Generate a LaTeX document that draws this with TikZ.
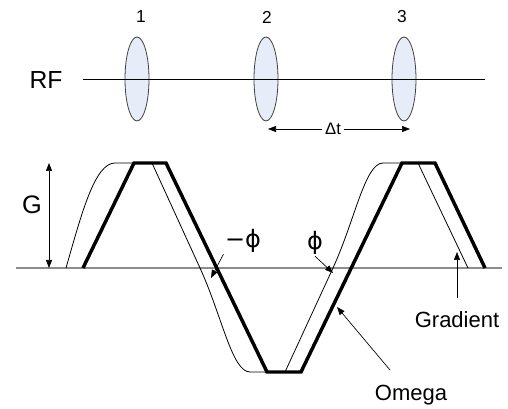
\documentclass[tikz,border=0pt]{standalone}
\usepackage{fontspec}
\setmainfont{Liberation Sans}
\newfontfamily\symfont{DejaVu Sans}
\usepackage{xcolor}
\definecolor{pulsefill}{HTML}{E6ECF8}
\definecolor{pulseline}{HTML}{404040}
\definecolor{axis}{HTML}{8C8C8C}
\usepackage{tikz}
\usetikzlibrary{shapes.geometric,arrows.meta,positioning}

\begin{document}
\begin{tikzpicture}[x=0.75pt,y=-0.75pt,
  pulse/.style={ellipse,draw=pulseline,fill=pulsefill,line width=0.6pt,
    minimum width=18pt,minimum height=63pt,inner sep=0pt},
  arr/.style={-{Triangle[length=6pt,width=4.5pt]},line width=0.5pt},
  dbl/.style={{Triangle[length=6pt,width=4.5pt]}-{Triangle[length=6pt,width=4.5pt]},line width=0.5pt},
  lbl/.style={font=\fontsize{16.5}{18}\selectfont,inner sep=1pt}]
  \useasboundingbox (0,0) rectangle (508,409);
  % ligne RF et impulsions
  \node[font=\fontsize{18.5}{20}\selectfont] (rf) at (46,80) {RF};
  \coordinate (rfa) at (83,79);
  \coordinate (rfb) at (485,79);
  \foreach \i/\x/\t in {1/137/141,2/266/267,3/404/402} {
    \node[pulse] (p\i) at (\x,79) {};
    \node[font=\fontsize{13}{15}\selectfont] (n\i) at (\t,17) {\i};
  }
  \draw[line width=0.6pt] (rfa) -- (rfb);
  % intervalle entre impulsions
  \node[font=\fontsize{12.5}{14}\selectfont,inner sep=2pt] (dt) at (333,129) {Δt};
  \coordinate (dtl) at (268,129);
  \coordinate (dtr) at (410,129);
  \draw[arr] (dt) -- (dtl);
  \draw[arr] (dt) -- (dtr);
  % axe zero
  \coordinate (z0) at (16,268);
  \coordinate (z1) at (502,268);
  \draw[axis,line width=1.2pt] (z0) -- (z1);
  % gradient (trait fin)
  \draw[line width=0.6pt] (66,268) .. controls (82,212) and (95,163) .. (115,163) -- (152,163)
    -- (200,268) .. controls (222,316) and (232,372) .. (250,372) -- (285,372)
    -- (333,268) .. controls (355,220) and (365,163) .. (383,163) -- (418,163) -- (468,268);
  % omega (trait epais)
  \draw[line width=2.6pt] (83,268) -- (134,163) -- (166,163) -- (267,372) -- (301,372)
    -- (402,163) -- (435,163) -- (485,268);
  % amplitude G
  \coordinate (gtop) at (49,163);
  \coordinate (gbot) at (49,268);
  \draw[dbl] (gtop) -- (gbot);
  \node[font=\fontsize{19}{21}\selectfont] (g) at (32,205) {G};
  % phases
  \node[font=\symfont\fontsize{18}{20}\selectfont,inner sep=1pt] (mphi) at (243,241) {−ϕ};
  \node[font=\symfont\fontsize{18}{20}\selectfont,inner sep=1pt] (phi) at (315,243) {ϕ};
  \coordinate (mphitip) at (211,278);
  \coordinate (phitip) at (333,273);
  \draw[arr] (mphi.south west) -- (mphitip);
  \draw[arr] (phi.south) -- (phitip);
  % legendes
  \node[lbl] (om) at (411,395) {Omega};
  \coordinate (omtip) at (337,307);
  \draw[arr,shorten <=13pt] (om) -- (omtip);
  \node[lbl] (gr) at (457,320) {Gradient};
  \coordinate (grtip) at (457,252);
  \draw[arr,shorten <=9pt] (gr.north) -- (grtip);
\end{tikzpicture}
\end{document}
